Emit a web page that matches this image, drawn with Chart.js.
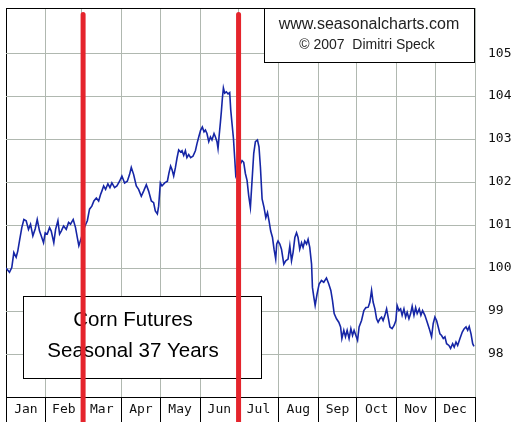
<!DOCTYPE html>
<html>
<head>
<meta charset="utf-8">
<script src="https://cdn.jsdelivr.net/npm/chart.js@4"></script>
<style>
  body { margin: 0; background: #fff; }
  #wrap { width: 529px; height: 422px; position: relative; }
</style>
</head>
<body>
<div id="wrap"><canvas id="seasonalChart"></canvas></div>
<script>
// month names and the day of year each month starts on (plus end of year)
const months = ['Jan', 'Feb', 'Mar', 'Apr', 'May', 'Jun', 'Jul', 'Aug', 'Sep', 'Oct', 'Nov', 'Dec'];
const monthStart = [0, 31, 59, 90, 120, 151, 181, 212, 243, 273, 304, 334, 365];
const yTicks = [98, 99, 100, 101, 102, 103, 104, 105];

// seasonal pattern: day of year / index value
const days = [
  0, 2.7, 4.5, 6.1, 7.9, 9.2, 10.5, 12.3, 13.9, 15.7,
  17.5, 19.1, 20.9, 22.7, 24.3, 26.1, 27.4, 29.2, 30.5, 32.1,
  33.9, 35.2, 37.2, 38.6, 40.4, 41.7, 43.0, 44.8, 46.9, 48.7,
  50.2, 52.3, 54.1, 55.5, 56.7, 58.4, 61.2, 63.3, 65.0, 66.8,
  68.4, 70.3, 72.1, 73.6, 74.6, 76.0, 77.5, 79.3, 80.9, 82.4,
  84.5, 86.3, 88.4, 90.2, 92.3, 94.4, 96.2, 97.5, 99.3, 101.4,
  103.2, 105.3, 107.1, 109.2, 111.0, 113.1, 114.9, 116.2, 117.8, 118.8,
  120.1, 121.4, 123.5, 125.6, 126.8, 128.1, 129.2, 130.5, 131.8, 133.1,
  134.4, 135.9, 137.0, 138.3, 139.6, 140.8, 142.2, 143.7, 145.5, 147.4,
  148.6, 150.0, 151.5, 152.8, 154.1, 155.2, 156.4, 157.8, 159.1, 160.3,
  161.9, 163.0, 164.2, 165.0, 165.8, 166.9, 167.6, 168.4, 169.2, 170.2,
  171.5, 172.8, 174.1, 174.9, 175.9, 177.0, 178.0, 178.8, 180.7, 183.7,
  185.0, 186.3, 187.6, 188.9, 190.2, 191.5, 192.8, 194.1, 195.7, 196.9,
  198.0, 199.3, 200.8, 202.2, 203.5, 204.7, 206.0, 207.4, 208.6, 209.9,
  210.7, 211.7, 213.1, 214.4, 216.2, 217.7, 219.5, 220.9, 222.2, 223.4,
  224.8, 226.1, 227.3, 228.6, 230.0, 231.2, 232.5, 233.9, 235.1, 236.4,
  237.8, 238.5, 239.6, 240.6, 242.1, 243.7, 245.5, 247.3, 249.4, 251.2,
  252.8, 254.1, 255.4, 257.2, 259.0, 260.4, 261.4, 262.9, 264.2, 265.5,
  267.0, 268.4, 269.7, 270.9, 272.3, 273.6, 274.8, 276.7, 278.5, 280.1,
  281.9, 283.2, 284.5, 285.7, 287.1, 288.4, 289.6, 291.0, 292.3, 293.5,
  294.9, 296.2, 297.4, 298.8, 300.5, 302.1, 303.4, 304.4, 305.8, 307.1,
  308.3, 309.7, 311.0, 312.2, 313.6, 314.9, 316.1, 317.5, 318.8, 320.0,
  321.6, 322.9, 324.2, 326.0, 327.8, 329.4, 331.2, 332.5, 333.8, 335.1,
  336.4, 337.7, 339.0, 340.3, 341.6, 342.9, 344.7, 346.0, 347.6, 348.8,
  350.2, 351.5, 353.3, 355.1, 356.6, 358.0, 359.3, 360.5, 361.9, 363.2,
  364.2
];
const seasonal = [
  100.0, 99.90, 100.01, 100.36, 100.25, 100.40, 100.63, 100.94, 101.13, 101.10,
  100.90, 101.02, 100.75, 100.91, 101.13, 100.86, 100.75, 100.59, 100.82, 100.79,
  100.94, 100.86, 100.59, 100.90, 101.10, 100.79, 100.86, 100.98, 100.90, 101.06,
  101.02, 101.13, 100.94, 100.71, 100.52, 100.68, 100.96, 101.10, 101.37, 101.44,
  101.56, 101.63, 101.56, 101.71, 101.79, 101.91, 101.83, 101.96, 101.87, 101.98,
  101.87, 101.91, 102.02, 102.14, 101.98, 102.02, 102.18, 102.34, 102.18, 101.91,
  101.83, 101.67, 101.79, 101.94, 101.79, 101.56, 101.52, 101.33, 101.26, 101.44,
  101.98, 101.91, 101.98, 102.02, 102.21, 102.37, 102.29, 102.14, 102.33, 102.56,
  102.75, 102.70, 102.73, 102.62, 102.73, 102.57, 102.64, 102.57, 102.60, 102.73,
  102.89, 103.05, 103.21, 103.28, 103.17, 103.21, 103.13, 102.94, 103.05, 102.98,
  103.13, 103.05, 102.94, 102.78, 103.05, 103.40, 103.64, 103.95, 104.19, 104.07,
  104.10, 104.05, 104.08, 103.68, 103.36, 103.02, 102.55, 102.16, 102.32, 102.50,
  102.46, 102.20, 102.04, 101.68, 101.41, 102.04, 102.67, 102.94, 102.98, 102.82,
  102.35, 101.61, 101.41, 101.17, 101.29, 101.10, 100.86, 100.71, 100.44, 100.21,
  100.56, 100.63, 100.56, 100.44, 100.09, 100.17, 100.21, 100.52, 100.17, 100.36,
  100.71, 100.82, 100.71, 100.44, 100.59, 100.48, 100.63, 100.56, 100.67, 100.48,
  100.09, 99.55, 99.32, 99.13, 99.40, 99.63, 99.71, 99.67, 99.77, 99.63,
  99.48, 99.24, 98.94, 98.82, 98.74, 98.63, 98.36, 98.55, 98.40, 98.55,
  98.36, 98.59, 98.43, 98.55, 98.43, 98.32, 98.63, 98.78, 99.01, 99.08,
  99.09, 99.21, 99.48, 99.21, 99.05, 98.82, 98.74, 98.82, 98.86, 98.78,
  98.90, 99.05, 98.86, 98.63, 98.59, 98.67, 98.78, 99.13, 99.01, 99.05,
  98.90, 99.05, 98.86, 98.97, 98.82, 98.94, 99.11, 98.90, 99.08, 98.94,
  99.05, 98.90, 99.01, 98.90, 98.74, 98.59, 98.40, 98.71, 98.86, 98.78,
  98.63, 98.47, 98.43, 98.36, 98.40, 98.24, 98.20, 98.13, 98.24, 98.16,
  98.28, 98.20, 98.36, 98.51, 98.59, 98.63, 98.55, 98.64, 98.47, 98.24,
  98.18
];

// red vertical markers (Mar 1 and Jul 1) and their span in value units
const markerDays = [60, 181];
const markerTop = 105.9;
const markerBottom = 96.3;

const monthMid = months.map((m, i) => (monthStart[i] + monthStart[i + 1]) / 2);
const isBoundary = v => monthStart.includes(v);
const gridGrey = '#b0b8b0';

// white boxes with the source note and the chart title
const boxes = {
  id: 'boxes',
  beforeDatasetsDraw(chart) {
    const ctx = chart.ctx;
    ctx.save();
    ctx.fillStyle = '#fff';
    ctx.strokeStyle = '#000';
    ctx.lineWidth = 1;
    ctx.fillRect(264, 8, 211, 55);
    ctx.strokeRect(264.5, 8.5, 210, 54);
    ctx.fillRect(23, 296, 239, 83);
    ctx.strokeRect(23.5, 296.5, 238, 82);
    ctx.textAlign = 'center';
    ctx.textBaseline = 'middle';
    ctx.fillStyle = '#222';
    ctx.font = '16px "Liberation Sans", Arial, sans-serif';
    ctx.fillText('www.seasonalcharts.com', 369, 25);
    ctx.font = '14px "Liberation Sans", Arial, sans-serif';
    ctx.fillText('\u00a9 2007  Dimitri Speck', 367, 45);
    ctx.fillStyle = '#000';
    ctx.font = '20.5px "Liberation Sans", Arial, sans-serif';
    ctx.fillText('Corn Futures', 133, 320);
    ctx.fillText('Seasonal 37 Years', 133, 351);
    ctx.restore();
  }
};

const markerSets = markerDays.map(d => ({
  data: [{ x: d, y: markerTop }, { x: d, y: markerBottom }],
  borderColor: '#e5242c',
  borderWidth: 5,
  borderCapStyle: 'round',
  pointRadius: 0,
  clip: false,
  order: 0
}));

new Chart(document.getElementById('seasonalChart'), {
  type: 'line',
  data: {
    datasets: [
      ...markerSets,
      {
        data: days.map((d, i) => ({ x: d, y: seasonal[i] })),
        borderColor: '#1626a6',
        borderWidth: 1.6,
        pointRadius: 0,
        tension: 0,
        order: 1
      }
    ]
  },
  options: {
    responsive: true,
    maintainAspectRatio: false,
    animation: false,
    layout: { padding: { left: 6, top: 8, right: 0, bottom: 0 } },
    plugins: { legend: { display: false }, tooltip: { enabled: false } },
    scales: {
      x: {
        type: 'linear',
        min: 0,
        max: 365,
        afterBuildTicks: s => { s.ticks = [...monthStart, ...monthMid].sort((a, b) => a - b).map(v => ({ value: v })); },
        afterFit: s => { s.height = 25; s.paddingLeft = 0; s.paddingRight = 0; },
        border: { color: '#000', width: 1 },
        grid: {
          color: c => c.tick && c.tick.value === 0 ? '#000' : gridGrey,
          lineWidth: c => c.tick && isBoundary(c.tick.value) ? 1 : 0,
          tickColor: '#000',
          tickLength: 25
        },
        ticks: {
          autoSkip: false,
          maxRotation: 0,
          padding: -20,
          color: '#111',
          font: { family: '"DejaVu Sans Mono", monospace', size: 13 },
          callback: v => { const i = monthMid.indexOf(v); return i >= 0 ? months[i] : ''; }
        }
      },
      y: {
        position: 'right',
        min: 97,
        max: 106.05,
        afterBuildTicks: s => { s.ticks = [...yTicks, 106.05].map(v => ({ value: v })); },
        afterFit: s => { s.width = 54; s.paddingTop = 0; s.paddingBottom = 0; },
        border: { display: false },
        grid: {
          color: c => c.tick && c.tick.value > 105.5 ? '#000' : gridGrey,
          drawTicks: false
        },
        ticks: {
          padding: 13,
          color: '#111',
          font: { family: '"DejaVu Sans Mono", monospace', size: 13 },
          callback: v => v > 105.5 ? '' : v
        }
      }
    }
  },
  plugins: [boxes]
});
</script>
</body>
</html>
